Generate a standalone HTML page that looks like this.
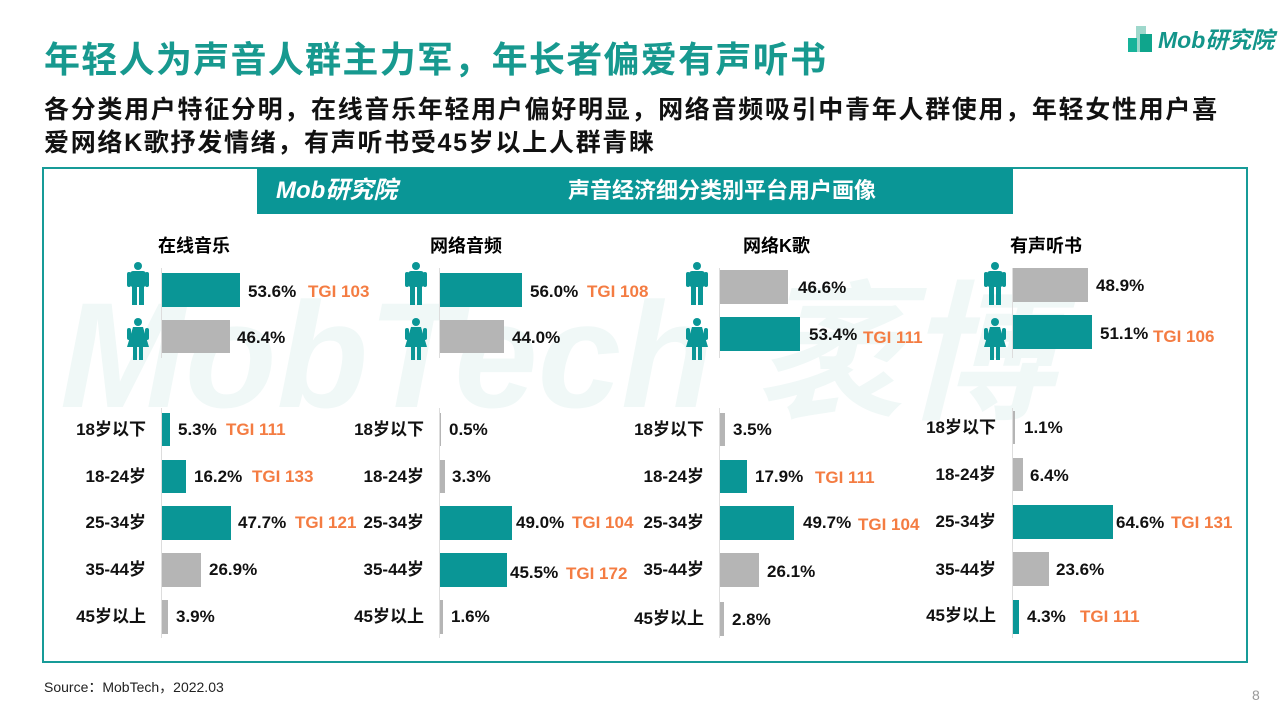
<!DOCTYPE html>
<html><head><meta charset="utf-8"><style>
*{margin:0;padding:0;box-sizing:border-box}
body{width:1280px;height:720px;background:#fff;position:relative;overflow:hidden;font-family:"Liberation Sans","Noto Sans CJK SC",sans-serif}
.a{position:absolute;white-space:nowrap}
.t{font-weight:bold;font-size:17px;line-height:20px;color:#111}
.o{color:#f47c42}
.b{position:absolute}
.g{background:#b5b5b5}.c{background:#0a9696}
.ax{position:absolute;width:1px;background:#ddd}
.r{text-align:right;width:90px}
</style></head><body>
<div class="a" style="left:44px;top:38px;font-size:36px;letter-spacing:1.3px;font-weight:bold;color:#17998f;line-height:44px">年轻人为声音人群主力军，年长者偏爱有声听书</div>
<div class="a" style="left:44px;top:94px;font-size:25px;letter-spacing:1.7px;font-weight:bold;color:#111;line-height:33px">各分类用户特征分明，在线音乐年轻用户偏好明显，网络音频吸引中青年人群使用，年轻女性用户喜<br>爱网络K歌抒发情绪，有声听书受45岁以上人群青睐</div>
<div class="a" style="left:1128px;top:22px;width:28px;height:32px">
<svg width="28" height="32"><rect x="8" y="4" width="10" height="26" fill="#9fd8cc"/><rect x="0" y="16" width="9" height="14" fill="#17b39a"/><rect x="12" y="12" width="12" height="18" fill="#0fa58c"/></svg></div>
<div class="a" style="left:1158px;top:26px;font-size:23px;font-style:italic;font-weight:bold;color:#13958a;line-height:28px">Mob研究院</div>
<div class="a" style="left:42px;top:167px;width:1206px;height:496px;border:2px solid #179b98"></div>
<div class="a" style="left:60px;top:280px;font-size:150px;font-weight:bold;font-style:italic;color:#f0f8f7;line-height:150px">MobTech 袤博</div>
<div class="a" style="left:257px;top:168px;width:756px;height:46px;background:#0a9696"></div>
<div class="a" style="left:276px;top:176px;font-size:24px;font-style:italic;font-weight:bold;color:#fff;line-height:30px">Mob研究院</div>
<div class="a" style="left:568px;top:176px;font-size:22px;font-weight:bold;color:#fff;line-height:30px">声音经济细分类别平台用户画像</div>

<div class="a" style="left:158px;top:235px;font-size:18px;font-weight:bold;line-height:22px">在线音乐</div>
<div class="a" style="left:430px;top:235px;font-size:18px;font-weight:bold;line-height:22px">网络音频</div>
<div class="a" style="left:743px;top:235px;font-size:18px;font-weight:bold;line-height:22px">网络K歌</div>
<div class="a" style="left:1010px;top:235px;font-size:18px;font-weight:bold;line-height:22px">有声听书</div>

<svg class="a" style="left:0;top:0" width="1280" height="720">
<defs>
<g id="m" fill="#0a9696"><circle cx="11" cy="4" r="4"/><rect x="3" y="9" width="16" height="16" rx="3"/><rect x="5" y="20" width="5" height="23"/><rect x="12" y="20" width="5" height="23"/><rect x="0" y="10" width="4" height="15" rx="2"/><rect x="18" y="10" width="4" height="15" rx="2"/></g>
<g id="f" fill="#0a9696"><circle cx="11" cy="4" r="4"/><path d="M6 9h10l6 20H0z"/><rect x="6" y="27" width="4" height="15"/><rect x="12" y="27" width="4" height="15"/><rect x="0" y="10" width="4" height="12" rx="2"/><rect x="18" y="10" width="4" height="12" rx="2"/></g>
</defs>
<use href="#m" x="127" y="262"/><use href="#f" x="127" y="318"/>
<use href="#m" x="405" y="262"/><use href="#f" x="405" y="318"/>
<use href="#m" x="686" y="262"/><use href="#f" x="686" y="318"/>
<use href="#m" x="984" y="262"/><use href="#f" x="984" y="318"/>
</svg>

<div class="ax" style="left:161px;top:268px;height:90px"></div><div class="ax" style="left:161px;top:408px;height:230px"></div>
<div class="ax" style="left:439px;top:268px;height:90px"></div><div class="ax" style="left:439px;top:408px;height:230px"></div>
<div class="ax" style="left:719px;top:268px;height:90px"></div><div class="ax" style="left:719px;top:408px;height:230px"></div>
<div class="ax" style="left:1012px;top:268px;height:90px"></div><div class="ax" style="left:1012px;top:408px;height:230px"></div>

<div class="b c" style="left:162px;top:273px;width:78px;height:34px"></div>
<div class="a t" style="left:248px;top:282px">53.6%</div><div class="a t o" style="left:308px;top:282px">TGI 103</div>
<div class="b g" style="left:162px;top:320px;width:68px;height:33px"></div>
<div class="a t" style="left:237px;top:328px">46.4%</div>
<div class="a t r" style="left:56px;top:420px">18岁以下</div>
<div class="a t r" style="left:56px;top:467px">18-24岁</div>
<div class="a t r" style="left:56px;top:513px">25-34岁</div>
<div class="a t r" style="left:56px;top:560px">35-44岁</div>
<div class="a t r" style="left:56px;top:607px">45岁以上</div>
<div class="b c" style="left:162px;top:413px;width:8px;height:33px"></div>
<div class="b c" style="left:162px;top:460px;width:24px;height:33px"></div>
<div class="b c" style="left:162px;top:506px;width:69px;height:34px"></div>
<div class="b g" style="left:162px;top:553px;width:39px;height:34px"></div>
<div class="b g" style="left:162px;top:600px;width:6px;height:34px"></div>
<div class="a t" style="left:178px;top:420px">5.3%</div><div class="a t o" style="left:226px;top:420px">TGI 111</div>
<div class="a t" style="left:194px;top:467px">16.2%</div><div class="a t o" style="left:252px;top:467px">TGI 133</div>
<div class="a t" style="left:238px;top:513px">47.7%</div><div class="a t o" style="left:295px;top:513px">TGI 121</div>
<div class="a t" style="left:209px;top:560px">26.9%</div>
<div class="a t" style="left:176px;top:607px">3.9%</div>

<div class="b c" style="left:440px;top:273px;width:82px;height:34px"></div>
<div class="a t" style="left:530px;top:282px">56.0%</div><div class="a t o" style="left:587px;top:282px">TGI 108</div>
<div class="b g" style="left:440px;top:320px;width:64px;height:33px"></div>
<div class="a t" style="left:512px;top:328px">44.0%</div>
<div class="a t r" style="left:334px;top:420px">18岁以下</div>
<div class="a t r" style="left:334px;top:467px">18-24岁</div>
<div class="a t r" style="left:334px;top:513px">25-34岁</div>
<div class="a t r" style="left:334px;top:560px">35-44岁</div>
<div class="a t r" style="left:334px;top:607px">45岁以上</div>
<div class="b g" style="left:440px;top:413px;width:1px;height:33px"></div>
<div class="b g" style="left:440px;top:460px;width:5px;height:33px"></div>
<div class="b c" style="left:440px;top:506px;width:72px;height:34px"></div>
<div class="b c" style="left:440px;top:553px;width:67px;height:34px"></div>
<div class="b g" style="left:440px;top:600px;width:3px;height:34px"></div>
<div class="a t" style="left:449px;top:420px">0.5%</div>
<div class="a t" style="left:452px;top:467px">3.3%</div>
<div class="a t" style="left:516px;top:513px">49.0%</div><div class="a t o" style="left:572px;top:513px">TGI 104</div>
<div class="a t" style="left:510px;top:563px">45.5%</div><div class="a t o" style="left:566px;top:564px">TGI 172</div>
<div class="a t" style="left:451px;top:607px">1.6%</div>

<div class="b g" style="left:720px;top:270px;width:68px;height:34px"></div>
<div class="a t" style="left:798px;top:278px">46.6%</div>
<div class="b c" style="left:720px;top:317px;width:80px;height:34px"></div>
<div class="a t" style="left:809px;top:325px">53.4%</div><div class="a t o" style="left:863px;top:328px">TGI 111</div>
<div class="a t r" style="left:614px;top:420px">18岁以下</div>
<div class="a t r" style="left:614px;top:467px">18-24岁</div>
<div class="a t r" style="left:614px;top:513px">25-34岁</div>
<div class="a t r" style="left:614px;top:560px">35-44岁</div>
<div class="a t r" style="left:614px;top:609px">45岁以上</div>
<div class="b g" style="left:720px;top:413px;width:5px;height:33px"></div>
<div class="b c" style="left:720px;top:460px;width:27px;height:33px"></div>
<div class="b c" style="left:720px;top:506px;width:74px;height:34px"></div>
<div class="b g" style="left:720px;top:553px;width:39px;height:34px"></div>
<div class="b g" style="left:720px;top:602px;width:4px;height:34px"></div>
<div class="a t" style="left:733px;top:420px">3.5%</div>
<div class="a t" style="left:755px;top:467px">17.9%</div><div class="a t o" style="left:815px;top:468px">TGI 111</div>
<div class="a t" style="left:803px;top:513px">49.7%</div><div class="a t o" style="left:858px;top:515px">TGI 104</div>
<div class="a t" style="left:767px;top:562px">26.1%</div>
<div class="a t" style="left:732px;top:610px">2.8%</div>

<div class="b g" style="left:1013px;top:268px;width:75px;height:34px"></div>
<div class="a t" style="left:1096px;top:276px">48.9%</div>
<div class="b c" style="left:1013px;top:315px;width:79px;height:34px"></div>
<div class="a t" style="left:1100px;top:324px">51.1%</div><div class="a t o" style="left:1153px;top:327px">TGI 106</div>
<div class="a t r" style="left:906px;top:418px">18岁以下</div>
<div class="a t r" style="left:906px;top:465px">18-24岁</div>
<div class="a t r" style="left:906px;top:512px">25-34岁</div>
<div class="a t r" style="left:906px;top:560px">35-44岁</div>
<div class="a t r" style="left:906px;top:606px">45岁以上</div>
<div class="b g" style="left:1013px;top:411px;width:2px;height:33px"></div>
<div class="b g" style="left:1013px;top:458px;width:10px;height:33px"></div>
<div class="b c" style="left:1013px;top:505px;width:100px;height:34px"></div>
<div class="b g" style="left:1013px;top:552px;width:36px;height:34px"></div>
<div class="b c" style="left:1013px;top:600px;width:6px;height:34px"></div>
<div class="a t" style="left:1024px;top:418px">1.1%</div>
<div class="a t" style="left:1030px;top:466px">6.4%</div>
<div class="a t" style="left:1116px;top:513px">64.6%</div><div class="a t o" style="left:1171px;top:513px">TGI 131</div>
<div class="a t" style="left:1056px;top:560px">23.6%</div>
<div class="a t" style="left:1027px;top:607px">4.3%</div><div class="a t o" style="left:1080px;top:607px">TGI 111</div>

<div class="a" style="left:44px;top:678px;font-size:14px;color:#222;line-height:18px">Source：MobTech，2022.03</div>
<div class="a" style="left:1252px;top:686px;font-size:14px;color:#999;line-height:18px">8</div>
</body></html>
